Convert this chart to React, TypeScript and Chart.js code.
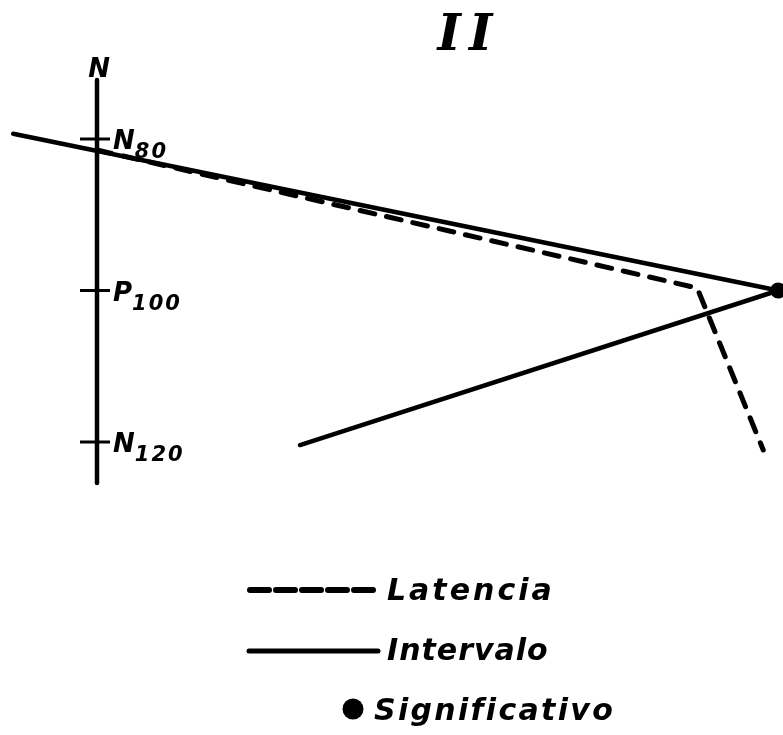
import { useEffect, useRef } from 'react';
import { Chart, registerables } from 'chart.js';

Chart.register(...registerables);

// ---- data ----
const latenciaX = [0, 8.81, 9.78];
const latenciaY = [81.45, 99.67, 121.06];
const intervaloX = [-1.23, 10, 2.98];
const intervaloY = [79.3, 100, 120.4];
const significativoX = [10];
const significativoY = [100];
const tickValues = [80, 100, 120];
const tickLetters = ['N', 'P', 'N'];
const tickSubs = ['80', '100', '120'];
const axisRange = [72.2, 125.4];
const seriesLabels = ['Latencia', 'Intervalo', 'Significativo'];
const titleText = 'II';
const axisTitle = 'N';

const toPoints = (xs: number[], ys: number[]) => xs.map((x, i) => ({ x, y: ys[i] }));

const SANS = '"DejaVu Sans", sans-serif';

const customDraw = {
  id: 'customDraw',
  beforeDatasetsDraw(chart: any) {
    const { ctx, scales } = chart;
    const xs = scales.x;
    const ys = scales.y;
    const ax = xs.getPixelForValue(0);
    ctx.save();
    ctx.strokeStyle = '#000';
    ctx.fillStyle = '#000';
    // vertical axis
    ctx.lineWidth = 4.5;
    ctx.lineCap = 'round';
    const top = ys.getPixelForValue(axisRange[0]);
    const bottom = ys.getPixelForValue(axisRange[1]);
    ctx.beginPath();
    ctx.moveTo(ax, top);
    ctx.lineTo(ax, bottom);
    ctx.stroke();
    // axis title
    ctx.font = `italic bold 26px ${SANS}`;
    ctx.textAlign = 'center';
    ctx.textBaseline = 'alphabetic';
    ctx.fillText(axisTitle, ax + 2, top - 3);
    // ticks
    ctx.lineWidth = 3;
    ctx.lineCap = 'butt';
    tickValues.forEach((v, i) => {
      const py = ys.getPixelForValue(v);
      ctx.beginPath();
      ctx.moveTo(ax - 17, py);
      ctx.lineTo(ax + 13, py);
      ctx.stroke();
      ctx.textAlign = 'left';
      ctx.font = `italic bold 26px ${SANS}`;
      (ctx as any).letterSpacing = '0px';
      const lx = ax + 16;
      ctx.fillText(tickLetters[i], lx, py + 10);
      const w = ctx.measureText(tickLetters[i]).width;
      ctx.font = `italic bold 21px ${SANS}`;
      (ctx as any).letterSpacing = '2px';
      ctx.fillText(tickSubs[i], lx + w, py + 19);
    });
    // title
    ctx.font = `italic bold 50px "DejaVu Serif", serif`;
    (ctx as any).letterSpacing = '8px';
    ctx.textAlign = 'center';
    ctx.fillText(titleText, 469, 50);
    (ctx as any).letterSpacing = '0px';
    ctx.restore();
  },
  afterDraw(chart: any) {
    const { ctx } = chart;
    ctx.save();
    ctx.strokeStyle = '#000';
    ctx.fillStyle = '#000';
    // Latencia sample
    ctx.lineWidth = 6;
    ctx.lineCap = 'round';
    ctx.setLineDash([19, 7]);
    ctx.beginPath();
    ctx.moveTo(250, 590);
    ctx.lineTo(376, 590);
    ctx.stroke();
    ctx.setLineDash([]);
    // Intervalo sample
    ctx.lineWidth = 5;
    ctx.beginPath();
    ctx.moveTo(249, 651);
    ctx.lineTo(378, 651);
    ctx.stroke();
    // Significativo dot
    ctx.beginPath();
    ctx.arc(353, 709, 10.5, 0, Math.PI * 2);
    ctx.fill();
    // texts
    ctx.font = `italic bold 30px ${SANS}`;
    ctx.textAlign = 'left';
    ctx.textBaseline = 'alphabetic';
    (ctx as any).letterSpacing = '3px';
    ctx.fillText(seriesLabels[0], 387, 600);
    (ctx as any).letterSpacing = '1px';
    ctx.fillText(seriesLabels[1], 387, 660);
    (ctx as any).letterSpacing = '2.3px';
    ctx.fillText(seriesLabels[2], 374, 720);
    ctx.restore();
  },
};

export default function App() {
  const ref = useRef<HTMLCanvasElement | null>(null);
  useEffect(() => {
    document.body.style.margin = '0';
    document.body.style.overflow = 'hidden';
    const canvas = ref.current;
    if (!canvas) return;
    const chart = new Chart(canvas, {
      type: 'scatter',
      data: {
        datasets: [
          {
            label: seriesLabels[0],
            data: toPoints(latenciaX, latenciaY),
            showLine: true,
            borderColor: '#000',
            borderWidth: 5,
            borderDash: [15, 12],
            borderCapStyle: 'round',
            borderJoinStyle: 'round',
            pointRadius: 0,
            tension: 0,
          },
          {
            label: seriesLabels[1],
            data: toPoints(intervaloX, intervaloY),
            showLine: true,
            borderColor: '#000',
            borderWidth: 4.5,
            borderCapStyle: 'round',
            borderJoinStyle: 'round',
            pointRadius: 0,
            tension: 0,
          },
          {
            label: seriesLabels[2],
            data: toPoints(significativoX, significativoY),
            showLine: false,
            pointRadius: 8,
            pointBackgroundColor: '#000',
            pointBorderColor: '#000',
            pointBorderWidth: 0,
          },
        ],
      } as any,
      options: {
        animation: false,
        responsive: false,
        maintainAspectRatio: false,
        devicePixelRatio: 1,
        layout: { padding: 0, autoPadding: false } as any,
        events: [],
        plugins: {
          legend: { display: false },
          tooltip: { enabled: false },
          title: { display: false },
        },
        scales: {
          x: { type: 'linear', min: -1.424, max: 10.07, display: false },
          y: { type: 'linear', min: 61.65, max: 158.68, reverse: true, display: false },
        },
      } as any,
      plugins: [customDraw],
    });
    return () => chart.destroy();
  }, []);
  return (
    <div style={{ width: 783, height: 735, background: '#fff' }}>
      <canvas ref={ref} width={783} height={735} style={{ display: 'block' }} />
    </div>
  );
}
